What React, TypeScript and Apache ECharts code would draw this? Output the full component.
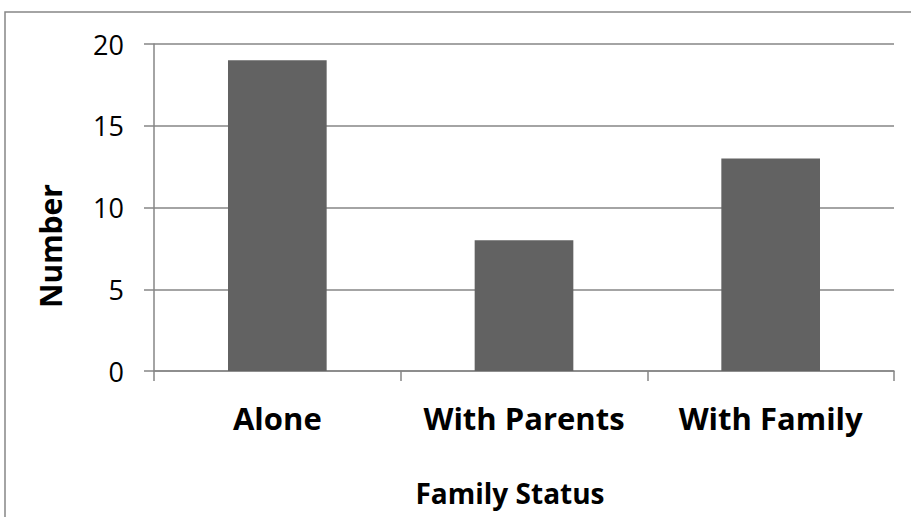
import React, { useEffect, useRef } from "react";
import * as echarts from "echarts";

const categories = ["Alone", "With Parents", "With Family"];
const values = [19, 8, 13];
const yTicks = { min: 0, max: 20, interval: 5 };
const xTitle = "Family Status";
const yTitle = "Number";

const FONT = "'Open Sans', sans-serif";
const GRID = "#868686";

export default function App() {
  const ref = useRef<HTMLDivElement>(null);
  useEffect(() => {
    if (!ref.current) return;
    const chart = echarts.init(ref.current, null, { renderer: "svg" });
    chart.setOption({
      animation: false,
      backgroundColor: "#ffffff",
      grid: { left: 154, top: 44, right: 17, bottom: 146, containLabel: false },
      xAxis: {
        type: "category",
        data: categories,
        axisLine: { show: true, lineStyle: { color: GRID, width: 1.5 } },
        axisTick: { show: true, length: 10, inside: false, lineStyle: { color: GRID, width: 1.5 } },
        axisLabel: {
          margin: 32,
          color: "#000",
          fontFamily: FONT,
          fontWeight: "bold",
          fontSize: 31,
          lineHeight: 30,
          interval: 0,
        },
      },
      yAxis: {
        type: "value",
        min: yTicks.min,
        max: yTicks.max,
        interval: yTicks.interval,
        axisLine: { show: true, lineStyle: { color: GRID, width: 1.5 } },
        axisTick: { show: true, length: 10, inside: false, lineStyle: { color: GRID, width: 1.5 } },
        splitLine: { show: true, lineStyle: { color: GRID, width: 1.5 } },
        axisLabel: {
          margin: 30,
          color: "#000",
          fontFamily: FONT,
          fontSize: 27,
        },
      },
      series: [
        {
          type: "bar",
          data: values,
          barCategoryGap: "60%",
          itemStyle: { color: "#626262" },
        },
      ],
      graphic: [
        {
          type: "rect",
          shape: { x: 5, y: 12, width: 1200, height: 1000 },
          style: { fill: "none", stroke: GRID, lineWidth: 1.5 },
          silent: true,
          z: -1,
        },
        {
          type: "text",
          x: 510,
          y: 493,
          style: {
            text: xTitle,
            fill: "#000",
            font: `bold 28px ${FONT}`,
            align: "center",
            verticalAlign: "middle",
          },
        },
        {
          type: "text",
          x: 50,
          y: 246,
          rotation: Math.PI / 2,
          style: {
            text: yTitle,
            fill: "#000",
            font: `bold 30px ${FONT}`,
            align: "center",
            verticalAlign: "middle",
          },
        },
      ],
    });
    return () => chart.dispose();
  }, []);
  return (
    <div
      ref={ref}
      style={{ position: "absolute", left: 0, top: 0, width: 911, height: 517 }}
    />
  );
}
